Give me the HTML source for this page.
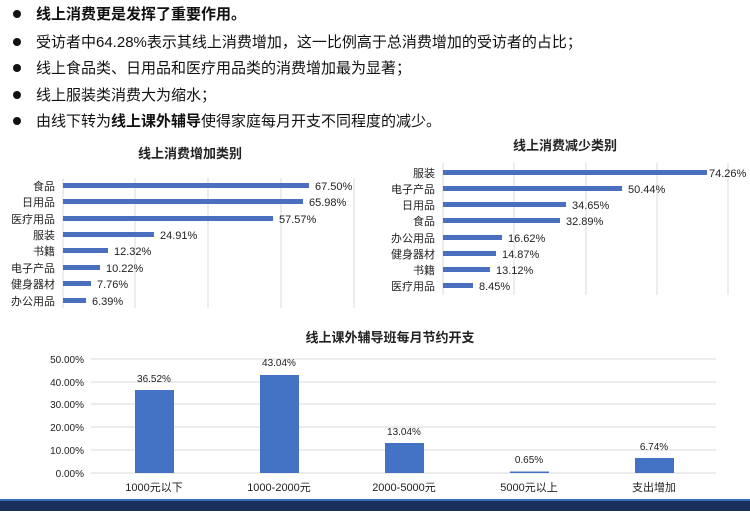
<!DOCTYPE html>
<html><head><meta charset="utf-8"><style>
body{margin:0;width:750px;height:511px;overflow:hidden;background:#fff;font-family:"Liberation Sans","Noto Sans CJK SC",sans-serif;}
svg text{font-family:"Liberation Sans","Noto Sans CJK SC",sans-serif;}
</style></head><body>
<svg width="750" height="511" viewBox="0 0 750 511" xmlns="http://www.w3.org/2000/svg">
<rect width="750" height="511" fill="#fff"/>
<g font-size="15" fill="#111">
<circle cx="17" cy="14" r="4" fill="#111"/><text x="36" y="19" font-weight="bold">线上消费更是发挥了重要作用。</text>
<circle cx="17" cy="42" r="4" fill="#111"/><text x="36" y="47">受访者中64.28%表示其线上消费增加，这一比例高于总消费增加的受访者的占比；</text>
<circle cx="17" cy="68" r="4" fill="#111"/><text x="36" y="73">线上食品类、日用品和医疗用品类的消费增加最为显著；</text>
<circle cx="17" cy="95" r="4" fill="#111"/><text x="36" y="100">线上服装类消费大为缩水；</text>
<circle cx="17" cy="121" r="4" fill="#111"/><text x="36" y="126">由线下转为<tspan font-weight="bold">线上课外辅导</tspan>使得家庭每月开支不同程度的减少。</text>
</g>
<!-- left chart -->
<text x="190" y="158" font-size="13" font-weight="bold" text-anchor="middle" fill="#222">线上消费增加类别</text>
<g stroke="#d9d9d9" stroke-width="1">
<line x1="63" y1="178" x2="63" y2="308"/><line x1="135" y1="178" x2="135" y2="308"/><line x1="208" y1="178" x2="208" y2="308"/><line x1="281" y1="178" x2="281" y2="308"/><line x1="354" y1="178" x2="354" y2="308"/>
</g>
<g fill="#4a6fbe">
<rect x="63" y="183" width="246" height="5"/><rect x="63" y="199" width="240" height="5"/><rect x="63" y="216" width="210" height="5"/><rect x="63" y="232" width="91" height="5"/><rect x="63" y="248" width="45" height="5"/><rect x="63" y="265" width="37" height="5"/><rect x="63" y="281" width="28" height="5"/><rect x="63" y="298" width="23" height="5"/>
</g>
<g font-size="11" fill="#222" text-anchor="end">
<text x="55" y="190">食品</text><text x="55" y="206">日用品</text><text x="55" y="223">医疗用品</text><text x="55" y="239">服装</text><text x="55" y="255">书籍</text><text x="55" y="272">电子产品</text><text x="55" y="288">健身器材</text><text x="55" y="305">办公用品</text>
</g>
<g font-size="11" fill="#222">
<text x="315" y="190">67.50%</text><text x="309" y="206">65.98%</text><text x="279" y="223">57.57%</text><text x="160" y="239">24.91%</text><text x="114" y="255">12.32%</text><text x="106" y="272">10.22%</text><text x="97" y="288">7.76%</text><text x="92" y="305">6.39%</text>
</g>
<!-- right chart -->
<text x="565" y="150" font-size="13" font-weight="bold" text-anchor="middle" fill="#222">线上消费减少类别</text>
<g stroke="#d9d9d9" stroke-width="1">
<line x1="443" y1="163" x2="443" y2="295"/><line x1="514" y1="163" x2="514" y2="295"/><line x1="586" y1="163" x2="586" y2="295"/><line x1="657" y1="163" x2="657" y2="295"/><line x1="728" y1="163" x2="728" y2="295"/>
</g>
<g fill="#4a6fbe">
<rect x="443" y="170" width="264" height="5"/><rect x="443" y="186" width="179" height="5"/><rect x="443" y="202" width="123" height="5"/><rect x="443" y="218" width="117" height="5"/><rect x="443" y="235" width="59" height="5"/><rect x="443" y="251" width="53" height="5"/><rect x="443" y="267" width="47" height="5"/><rect x="443" y="283" width="30" height="5"/>
</g>
<g font-size="11" fill="#222" text-anchor="end">
<text x="435" y="177">服装</text><text x="435" y="193">电子产品</text><text x="435" y="209">日用品</text><text x="435" y="225">食品</text><text x="435" y="242">办公用品</text><text x="435" y="258">健身器材</text><text x="435" y="274">书籍</text><text x="435" y="290">医疗用品</text>
</g>
<g font-size="11" fill="#222">
<text x="709" y="177">74.26%</text><text x="628" y="193">50.44%</text><text x="572" y="209">34.65%</text><text x="566" y="225">32.89%</text><text x="508" y="242">16.62%</text><text x="502" y="258">14.87%</text><text x="496" y="274">13.12%</text><text x="479" y="290">8.45%</text>
</g>
<!-- bottom chart -->
<text x="390" y="342" font-size="13" font-weight="bold" text-anchor="middle" fill="#222">线上课外辅导班每月节约开支</text>
<g stroke="#d9d9d9" stroke-width="1">
<line x1="91" y1="359" x2="716" y2="359"/><line x1="91" y1="382" x2="716" y2="382"/><line x1="91" y1="404" x2="716" y2="404"/><line x1="91" y1="427" x2="716" y2="427"/><line x1="91" y1="450" x2="716" y2="450"/><line x1="91" y1="473" x2="716" y2="473"/>
</g>
<g font-size="10" fill="#222" text-anchor="end">
<text x="84" y="363">50.00%</text><text x="84" y="386">40.00%</text><text x="84" y="408">30.00%</text><text x="84" y="431">20.00%</text><text x="84" y="454">10.00%</text><text x="84" y="477">0.00%</text>
</g>
<g fill="#4472c4">
<rect x="135" y="390" width="39" height="83"/><rect x="260" y="375" width="39" height="98"/><rect x="385" y="443" width="39" height="30"/><rect x="510" y="471.5" width="39" height="1.5"/><rect x="635" y="458" width="39" height="15"/>
</g>
<g font-size="10" fill="#222" text-anchor="middle">
<text x="154" y="382">36.52%</text><text x="279" y="366">43.04%</text><text x="404" y="435">13.04%</text><text x="529" y="463">0.65%</text><text x="654" y="450">6.74%</text>
<text x="154" y="491" font-size="11">1000元以下</text><text x="279" y="491" font-size="11">1000-2000元</text><text x="404" y="491" font-size="11">2000-5000元</text><text x="529" y="491" font-size="11">5000元以上</text><text x="654" y="491" font-size="11">支出增加</text>
</g>
<rect x="0" y="501" width="750" height="10" fill="#1a2f5c"/>
<rect x="0" y="499" width="750" height="2" fill="#3b6fb5"/>
</svg>
</body></html>
